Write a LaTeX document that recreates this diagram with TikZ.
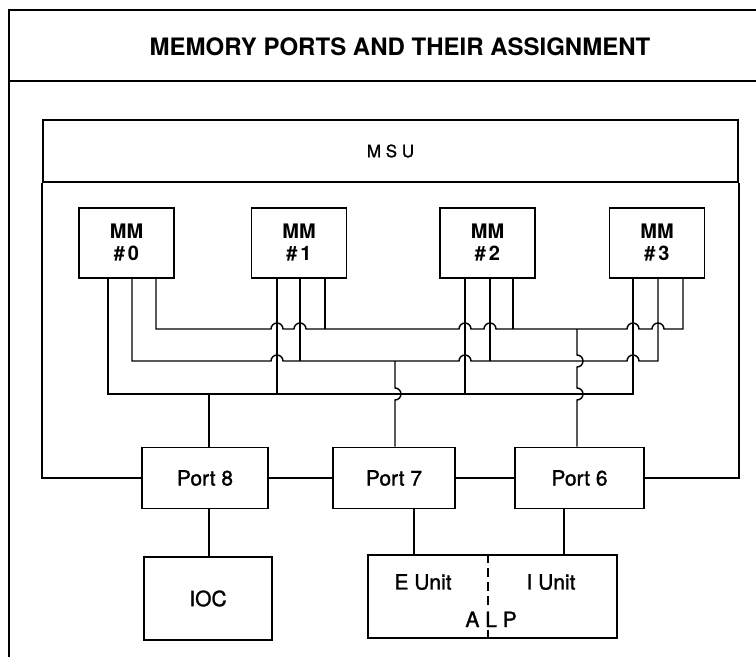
\documentclass[tikz,border=0pt]{standalone}
\usepackage{fontspec}
\setmainfont{TeX Gyre Heros}
\newfontfamily\medfont[FakeBold=1.3]{TeX Gyre Heros}
\begin{document}
\begin{tikzpicture}[x=1pt,y=1pt,
  frameline/.style={line width=2.4pt},
  wire/.style={line width=1.4pt},
  boxbase/.style={draw, line width=1.8pt, inner sep=0pt, align=center},
  mmbox/.style={boxbase, minimum width=95pt, minimum height=70pt,
    font=\fontsize{20}{22}\selectfont\bfseries},
  portbox/.style={boxbase, minimum height=61pt, font=\medfont\fontsize{21}{24}\selectfont},
  unitbox/.style={boxbase, minimum height=83pt, font=\medfont\fontsize{21}{24}\selectfont},
  lbl/.style={inner sep=0pt, font=\medfont\fontsize{21}{24}\selectfont},
  divider/.style={line width=1.6pt}
]
\useasboundingbox (0,0) rectangle (756,-657);

% frame and title
\draw[frameline] (756,-10) -- (9,-10) -- (9,-657);
\draw[line width=2.2pt] (9,-81) -- (756,-81);
\node[inner sep=0pt, font=\fontsize{24}{28}\selectfont\bfseries] (title) at (400,-46.5) {MEMORY PORTS AND THEIR ASSIGNMENT};

% MSU
\node[boxbase, minimum width=695pt, minimum height=62pt, font=\medfont\fontsize{17}{20}\selectfont] (msu) at (390.5,-151) {M S U};

% memory modules
\node[mmbox] (mm0) at (126.5,-243) {MM\\\#\kern3pt0};
\node[mmbox] (mm1) at (299,-243) {MM\\\#\kern3pt1};
\node[mmbox] (mm2) at (487.5,-243) {MM\\\#\kern3pt2};
\node[mmbox] (mm3) at (657,-243) {MM\\\#\kern3pt3};

% ports
\node[portbox, minimum width=126pt] (port8) at (205,-478) {Port 8};
\node[portbox, minimum width=122pt] (port7) at (394,-478) {Port 7};
\node[portbox, minimum width=129pt] (port6) at (579.5,-478) {Port 6};

% IOC and ALP
\node[unitbox, minimum width=128pt] (ioc) at (208,-598.5) {IOC};
\node[unitbox, minimum width=249pt] (alp) at (492.5,-596.5) {};
\node[lbl] (eunit) at (423,-582) {E Unit};
\node[lbl] (iunit) at (551,-582) {I Unit};
\node[lbl, anchor=base west] (alplbl) at (465.2,-627) {A L P};
\draw[divider, dash pattern=on 9pt off 5pt] (488,0 |- alp.north) -- (488,-606);
\draw[divider] (488,-630) -- (488,0 |- alp.south);

% bus line 1 (third outputs)
\draw[wire] (156,0 |- mm0.south) -- (156,-329)
  -- (271,-329) arc[start angle=180, end angle=0, radius=6pt]
  -- (294,-329) arc[start angle=180, end angle=0, radius=6pt]
  -- (459,-329) arc[start angle=180, end angle=0, radius=6pt]
  -- (484,-329) arc[start angle=180, end angle=0, radius=6pt]
  -- (627,-329) arc[start angle=180, end angle=0, radius=6pt]
  -- (652,-329) arc[start angle=180, end angle=0, radius=6pt]
  -- (683,-329) -- (683,0 |- mm3.south);
% bus line 2 (second outputs)
\draw[wire] (132,0 |- mm0.south) -- (132,-361)
  -- (271,-361) arc[start angle=180, end angle=0, radius=6pt]
  -- (459,-361) arc[start angle=180, end angle=0, radius=6pt]
  -- (627,-361) arc[start angle=180, end angle=0, radius=6pt]
  -- (658,-361) -- (658,0 |- mm3.south);
% bus line 3 (first outputs)
\draw[wire] (108,0 |- mm0.south) -- (108,-394) -- (633,-394) -- (633,0 |- mm3.south);

% stubs of MM1 and MM2
\draw[wire] (277,0 |- mm1.south) -- (277,-394);
\draw[wire] (300,0 |- mm1.south) -- (300,-361);
\draw[wire] (325,0 |- mm1.south) -- (325,-329);
\draw[wire] (465,0 |- mm2.south) -- (465,-394);
\draw[wire] (490,0 |- mm2.south) -- (490,-361);
\draw[wire] (513,0 |- mm2.south) -- (513,-329);

% port risers
\draw[wire] (209,-394) -- (209,0 |- port8.north);
\draw[wire] (395,-361) -- (395,-388) arc[start angle=90, end angle=-90, radius=6pt]
  -- (395,0 |- port7.north);
\draw[wire] (577,-329) -- (577,-355) arc[start angle=90, end angle=-90, radius=6pt]
  -- (577,-388) arc[start angle=90, end angle=-90, radius=6pt]
  -- (577,0 |- port6.north);

% port interconnections
\draw[wire] (msu.south west) |- (port8.west);
\draw[wire] (port8.east) -- (port7.west);
\draw[wire] (port7.east) -- (port6.west);
\draw[wire] (msu.south east) |- (port6.east);

% to IOC and ALP
\draw[wire] (209,0 |- port8.south) -- (209,0 |- ioc.north);
\draw[wire] (414,0 |- port7.south) -- (414,0 |- alp.north);
\draw[wire] (564,0 |- port6.south) -- (564,0 |- alp.north);
\end{tikzpicture}
\end{document}
